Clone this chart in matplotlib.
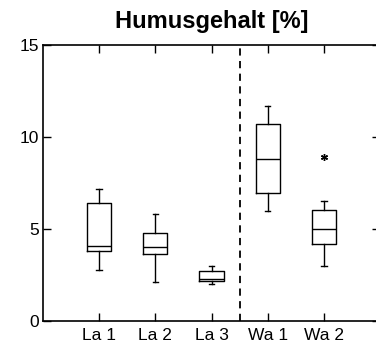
import matplotlib
matplotlib.use("Agg")
import matplotlib.pyplot as plt

plt.rcParams["font.family"] = ["Liberation Sans", "DejaVu Sans"]

# Humusgehalt je Standort (Quartile, Whisker, Ausreisser)
sites = ["La 1", "La 2", "La 3", "Wa 1", "Wa 2"]
whis_lo = [2.75, 2.12, 1.99, 6.0, 2.99]
q1 = [3.8, 3.62, 2.19, 6.96, 4.17]
med = [4.07, 4.0, 2.26, 8.79, 5.0]
q3 = [6.4, 4.77, 2.73, 10.7, 6.03]
whis_hi = [7.2, 5.83, 3.0, 11.68, 6.54]
outliers = [[], [], [], [], [8.93]]

yticks = [0, 5, 10, 15]

stats = [dict(label=s, whislo=a, q1=b, med=c, q3=d, whishi=e, fliers=f)
         for s, a, b, c, d, e, f in zip(sites, whis_lo, q1, med, q3, whis_hi, outliers)]

fig = plt.figure(figsize=(3.76, 3.47), dpi=100)
ax = fig.add_axes([43 / 376, 26 / 347, 337 / 376, 276 / 347])

lw = 1.0
ax.bxp(stats, positions=range(1, len(sites) + 1), widths=0.43, capwidths=0.1,
       boxprops=dict(color="k", lw=lw), medianprops=dict(color="k", lw=lw),
       whiskerprops=dict(color="k", lw=lw), capprops=dict(color="k", lw=lw),
       flierprops=dict(marker=(6, 2, 0), markersize=5, markeredgecolor="k",
                       markeredgewidth=1.0, linestyle="none"))

# trennt Standorte La / Wa
ax.axvline(3.5, color="k", lw=1.3, ls=(0, (4, 3)))

ax.set_xlim(0, 6)
ax.set_ylim(0, 15)
ax.set_xticks(range(1, len(sites) + 1))
ax.set_xticklabels(sites)
ax.set_yticks(yticks)
ax.tick_params(direction="in", length=6, width=1.0, top=True, right=True,
               labelsize=12.5, colors="k")
ax.tick_params(axis="x", pad=5)
ax.tick_params(axis="y", pad=3)
for sp in ax.spines.values():
    sp.set_linewidth(1.2)

ax.set_title("Humusgehalt [%]", fontsize=17, fontweight="bold", pad=12)

fig.savefig("out.png", dpi=100)
